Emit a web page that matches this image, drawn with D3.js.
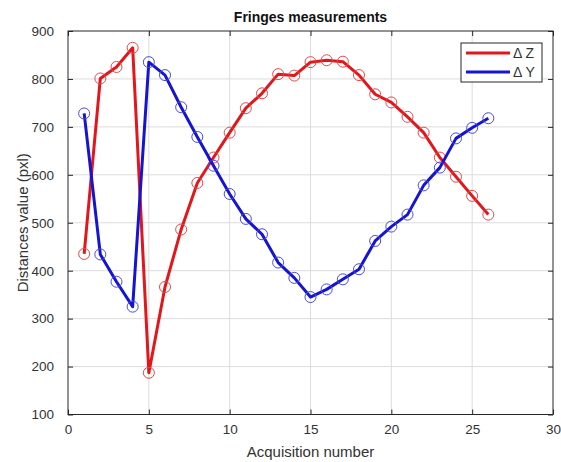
<!DOCTYPE html>
<html><head><meta charset="utf-8">
<script src="https://cdn.jsdelivr.net/npm/d3@7"></script>
<style>body{margin:0;background:#fff}svg{display:block;font-family:"Liberation Sans",Arial,sans-serif}</style>
</head><body><svg id="c" width="561" height="462"></svg>
<script>
const acquisitions = d3.range(1, 27);
const deltaZ = [435, 801, 825, 865, 187, 366, 486, 583, 636, 688, 739, 770, 810, 807, 835, 839, 836, 808, 768, 751, 721, 688, 636, 596, 556, 517];
const deltaY = [728, 434, 377, 325, 835, 808, 741, 679, 619, 560, 508, 476, 417, 385, 345, 361, 382, 403, 462, 492, 517, 578, 615, 676, 698, 718];
const xTicks = [0, 5, 10, 15, 20, 25, 30];
const yTicks = [100, 200, 300, 400, 500, 600, 700, 800, 900];
const seriesNames = ["\u0394 Z", "\u0394 Y"];
const seriesColors = ["#e3161b", "#1414d2"];
const markerColors = ["#e04a4a", "#4a4ad8"];

const svg = d3.select("#c");
const L = 68, R = 553, T = 31, B = 414.5;
const x = d3.scaleLinear().domain([0, 30]).range([L, R]);
const y = d3.scaleLinear().domain([100, 900]).range([B, T]);

// grid
const g = svg.append("g");
g.selectAll(".gx").data(xTicks.slice(1, -1)).join("line")
  .attr("x1", d => x(d)).attr("x2", d => x(d)).attr("y1", T).attr("y2", B)
  .attr("stroke", "#dcdcdc").attr("stroke-width", 1);
g.selectAll(".gy").data(yTicks.slice(1, -1)).join("line")
  .attr("y1", d => y(d)).attr("y2", d => y(d)).attr("x1", L).attr("x2", R)
  .attr("stroke", "#dcdcdc").attr("stroke-width", 1);

// axes
const axStyle = sel => {
  sel.select(".domain").remove();
  sel.selectAll("line").attr("stroke", "#262626");
  sel.selectAll("text").attr("fill", "#333").style("font-size", "13.5px").style("font-family", "Liberation Sans, Arial, sans-serif");
};
svg.append("g").attr("transform", `translate(0,${B})`)
  .call(d3.axisBottom(x).tickValues(xTicks).tickSize(-5).tickPadding(10).tickFormat(d3.format("d"))).call(axStyle);
svg.append("g").attr("transform", `translate(0,${T})`)
  .call(d3.axisTop(x).tickValues(xTicks).tickSize(-5).tickFormat("")).call(axStyle);
svg.append("g").attr("transform", `translate(${L},0)`)
  .call(d3.axisLeft(y).tickValues(yTicks).tickSize(-5).tickPadding(14).tickFormat(d3.format("d"))).call(axStyle);
svg.append("g").attr("transform", `translate(${R},0)`)
  .call(d3.axisRight(y).tickValues(yTicks).tickSize(-5).tickFormat("")).call(axStyle);
svg.append("rect").attr("x", L).attr("y", T).attr("width", R - L).attr("height", B - T)
  .attr("fill", "none").attr("stroke", "#262626").attr("stroke-width", 1);

// series
const series = [deltaZ, deltaY];
const line = d3.line().x((d, i) => x(acquisitions[i])).y(d => y(d));
series.forEach((vals, k) => {
  svg.append("path").datum(vals).attr("d", line).attr("fill", "none")
    .attr("stroke", seriesColors[k]).attr("stroke-width", 3).attr("stroke-linejoin", "round");
  svg.append("g").selectAll("circle").data(vals).join("circle")
    .attr("cx", (d, i) => x(acquisitions[i])).attr("cy", d => y(d)).attr("r", 5.5)
    .attr("fill", "none").attr("stroke", markerColors[k]).attr("stroke-width", 1);
});

// title & labels
svg.append("text").attr("x", (L + R) / 2).attr("y", 22).attr("text-anchor", "middle")
  .style("font-size", "14px").style("font-weight", "bold").attr("fill", "#111").text("Fringes measurements");
svg.append("text").attr("x", (L + R) / 2).attr("y", 457).attr("text-anchor", "middle")
  .style("font-size", "15px").attr("fill", "#333").text("Acquisition number");
svg.append("text").attr("transform", `translate(28,${(T + B) / 2}) rotate(-90)`).attr("text-anchor", "middle")
  .style("font-size", "15px").attr("fill", "#333").text("Distances value (pxl)");

// legend
const lg = svg.append("g");
lg.append("rect").attr("x", 461).attr("y", 43).attr("width", 81).attr("height", 39)
  .attr("fill", "#fff").attr("stroke", "#262626").attr("stroke-width", 1);
seriesNames.forEach((n, k) => {
  const yy = 53 + k * 19;
  lg.append("line").attr("x1", 466).attr("x2", 510).attr("y1", yy).attr("y2", yy)
    .attr("stroke", seriesColors[k]).attr("stroke-width", 3);
  lg.append("text").attr("x", 513).attr("y", yy + 5).style("font-size", "14px").attr("fill", "#333").text(n);
});
</script></body></html>
